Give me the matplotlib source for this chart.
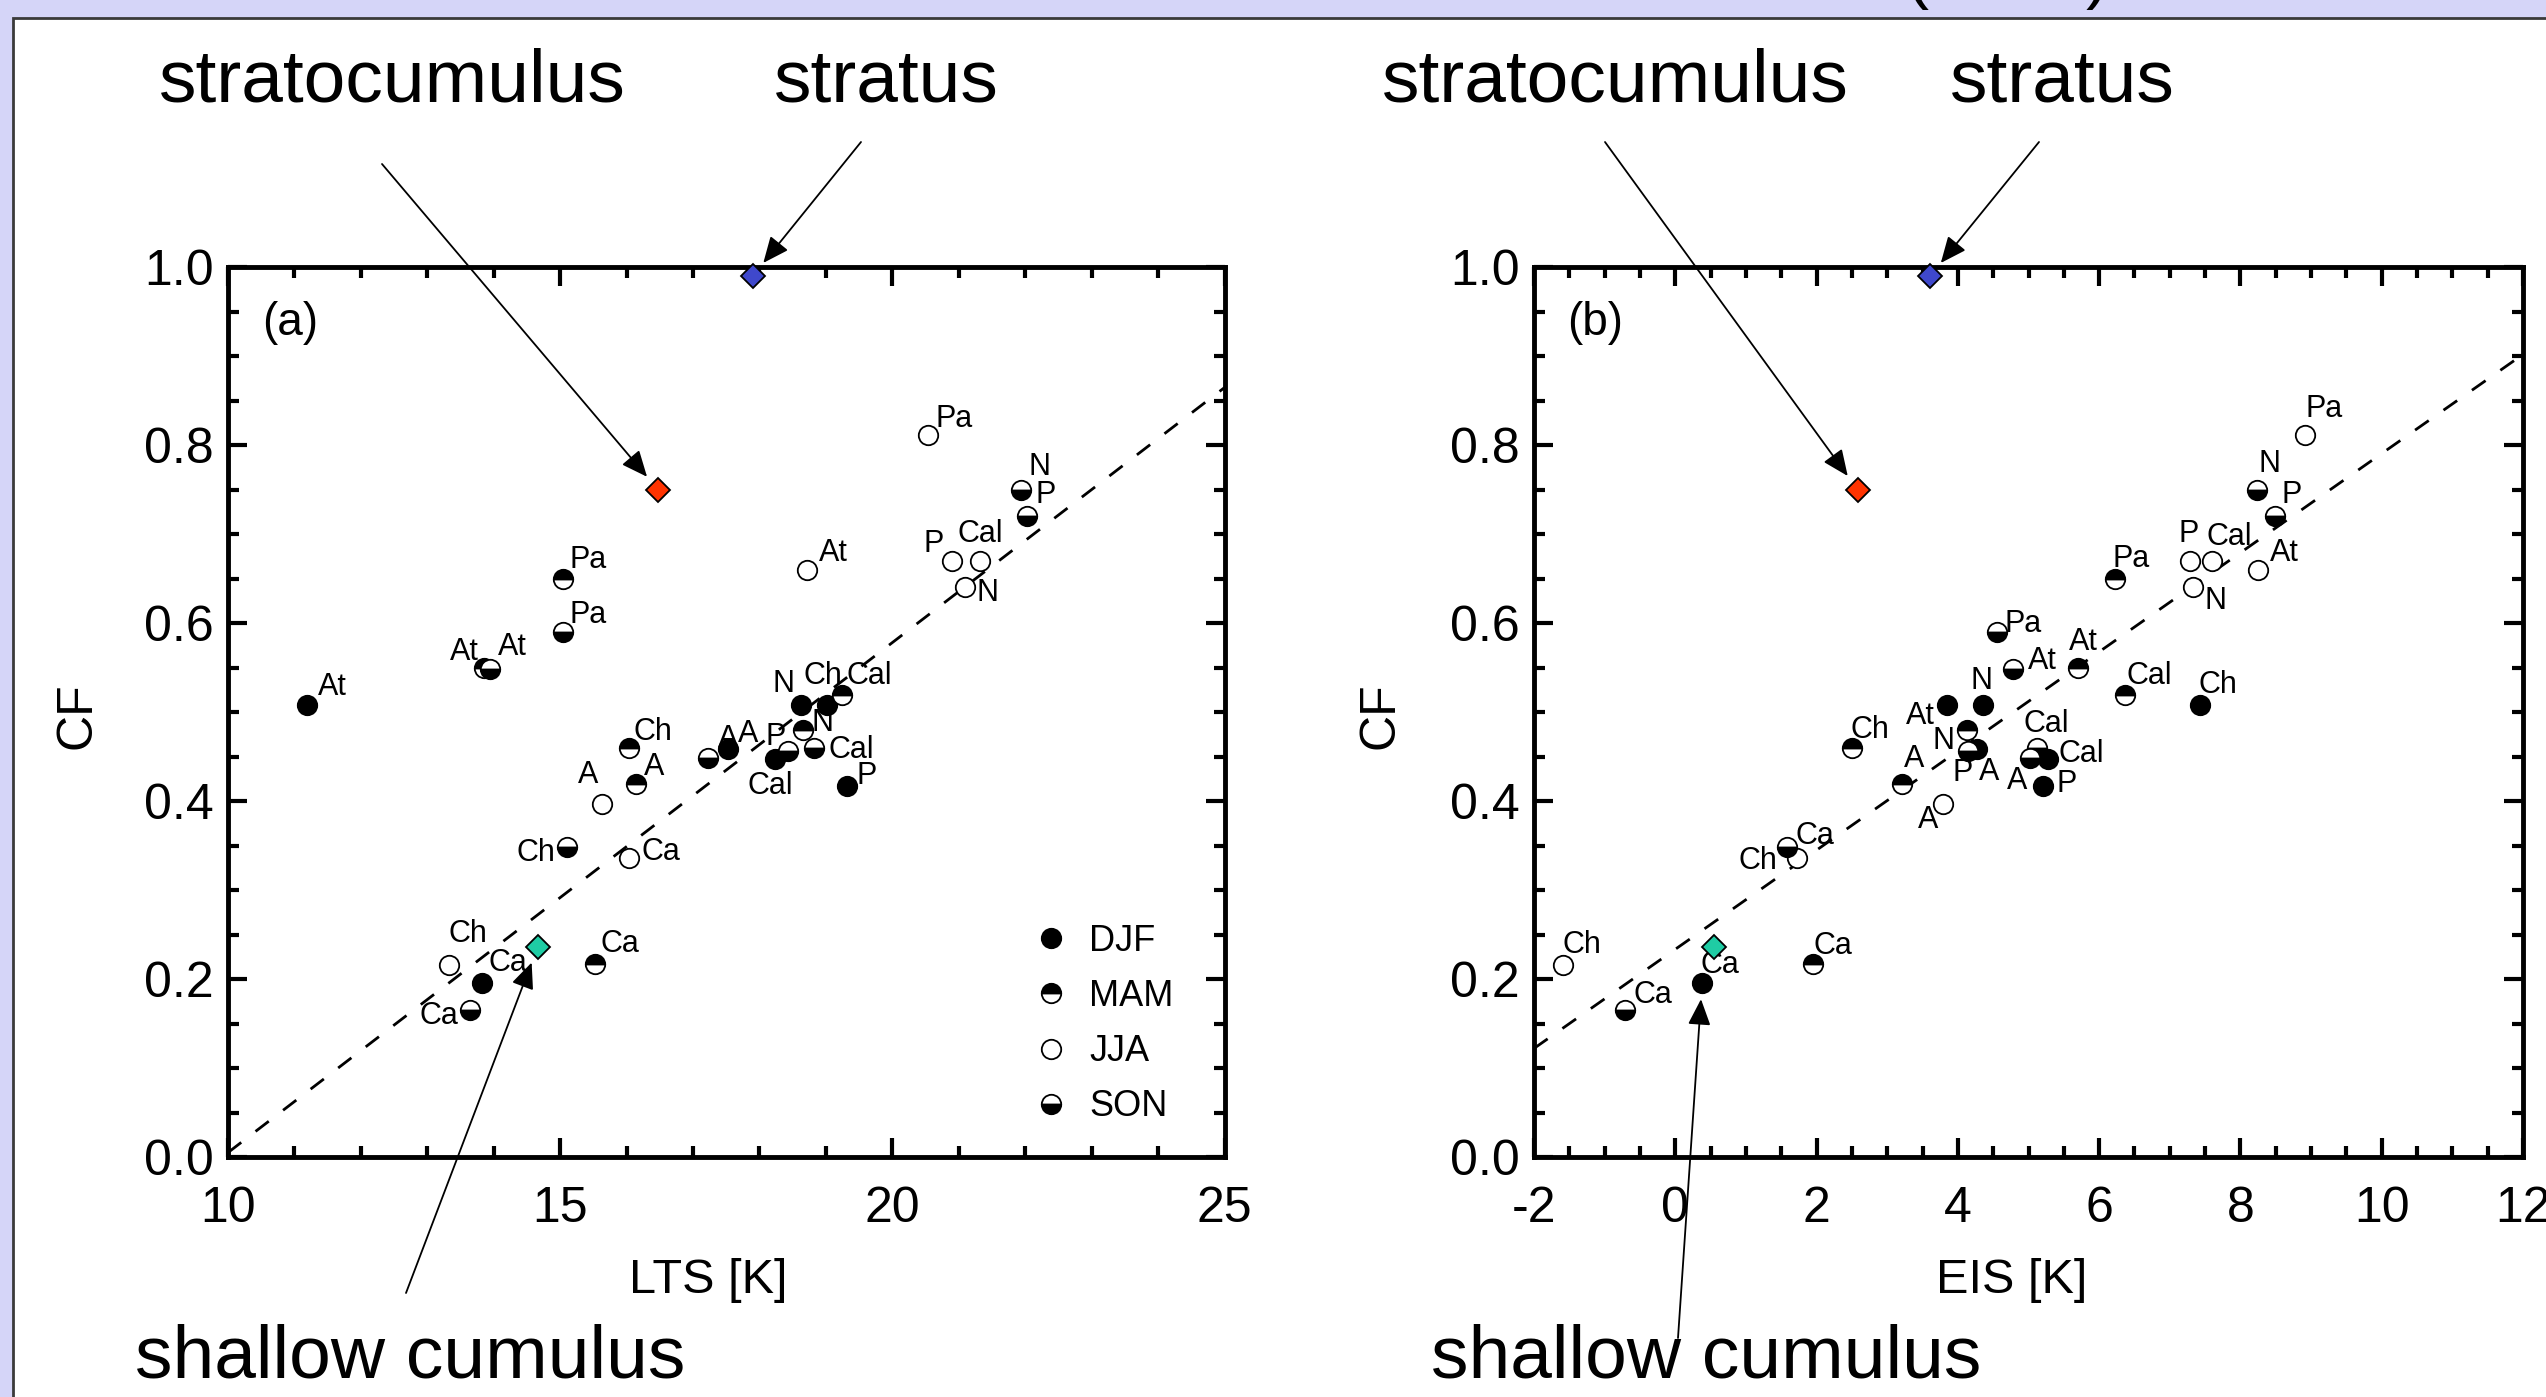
import numpy as np
import matplotlib
matplotlib.use('Agg')
import matplotlib.pyplot as plt
from matplotlib.lines import Line2D
from matplotlib.patches import Rectangle
from matplotlib.ticker import MultipleLocator

NARROW = ['Liberation Sans Narrow', 'Liberation Sans', 'DejaVu Sans']
plt.rcParams['font.family'] = NARROW
plt.rcParams['axes.unicode_minus'] = False

# --- data ---------------------------------------------------------------
regions = ['At', 'At', 'At', 'At', 'Pa', 'Pa', 'Pa', 'P', 'Cal', 'N', 'N',
           'P', 'N', 'Ch', 'Cal', 'A', 'A', 'Cal', 'P', 'N', 'Cal', 'P',
           'Ch', 'A', 'A', 'Ch', 'Ca', 'Ch', 'Ca', 'Ca', 'Ca']
seasons = ['DJF', 'MAM', 'SON', 'JJA', 'MAM', 'SON', 'JJA', 'JJA', 'JJA', 'JJA', 'SON',
           'SON', 'DJF', 'DJF', 'MAM', 'SON', 'DJF', 'DJF', 'SON', 'MAM', 'SON', 'DJF',
           'MAM', 'MAM', 'JJA', 'SON', 'JJA', 'JJA', 'DJF', 'SON', 'MAM']
lts = [11.19, 13.85, 13.95, 18.71, 15.05, 15.05, 20.53, 20.90, 21.32, 21.10, 21.93,
       22.02, 18.62, 19.02, 19.24, 17.23, 17.53, 18.24, 18.43, 18.65, 18.82, 19.32,
       16.04, 16.14, 15.63, 15.11, 16.04, 13.32, 13.83, 13.65, 15.53]
eis = [3.85, 5.70, 4.78, 8.25, 6.22, 4.55, 8.91, 7.29, 7.60, 7.33, 8.23,
       8.49, 4.36, 7.43, 6.37, 5.02, 4.27, 5.28, 4.14, 4.13, 5.12, 5.21,
       2.50, 3.21, 3.79, 1.58, 1.72, -1.59, 0.38, -0.71, 1.95]
cf = [0.508, 0.549, 0.548, 0.660, 0.650, 0.590, 0.811, 0.670, 0.670, 0.640, 0.750,
      0.720, 0.508, 0.508, 0.519, 0.448, 0.458, 0.447, 0.456, 0.480, 0.460, 0.417,
      0.459, 0.419, 0.397, 0.348, 0.336, 0.216, 0.196, 0.165, 0.217]

season_order = ['DJF', 'MAM', 'JJA', 'SON']

cloud_names = ['stratocumulus', 'stratus', 'shallow cumulus']
cloud_lts = [16.47, 17.90, 14.66]
cloud_eis = [2.58, 3.61, 0.55]
cloud_cf = [0.75, 0.99, 0.236]
cloud_colors = ['#ff3300', '#3f48cc', '#1fcca4']

# regression lines (slope, intercept)
fit_lts = (0.0573, -0.568)
fit_eis = (0.0557, 0.2334)

# label offsets (points) for each point label, per panel
offs_a = [(18, 13), (-14, 12), (16, 16), (19, 12), (18, 13), (18, 12), (19, 12), (-13, 12),
          (0, 19), (16, -4), (14, 16), (14, 15), (-12, 15), (-3, 21), (20, 14), (14, 14),
          (14, 11), (-4, -19), (-9, 10), (14, 5), (27, -2), (14, 7), (17, 12), (13, 12),
          (-10, 21), (-23, -4), (23, 4), (14, 22), (18, 14), (-23, -4), (18, 14)]
offs_b = [(-19, -8), (4, 19), (21, 6), (19, 12), (12, 14), (19, 6), (14, 19), (-1, 19),
          (12, 17), (16, -10), (9, 18), (12, 15), (-1, 17), (13, 14), (17, 14), (-9, -16),
          (9, -16), (24, 4), (-4, -16), (-17, -8), (7, 17), (17, 1), (13, 13), (9, 18),
          (-11, -12), (-21, -10), (13, 16), (14, 14), (13, 13), (20, 11), (14, 13)]

W, H = 2546, 1397


def fx(px):
    return px / W


def fy(py):
    return 1 - py / H


season_style = {
    'DJF': dict(markerfacecolor='k', fillstyle='full'),
    'MAM': dict(markerfacecolor='k', markerfacecoloralt='w', fillstyle='top'),
    'JJA': dict(markerfacecolor='w', fillstyle='full'),
    'SON': dict(markerfacecolor='k', markerfacecoloralt='w', fillstyle='bottom'),
}
mk = dict(ls='none', marker='o', ms=14, mec='k', mew=1.3)

fig = plt.figure(figsize=(W / 100, H / 100), dpi=100, facecolor='#d5d5f8')
fig.patches.append(Rectangle((fx(13), -0.02), 1.0, fy(18) + 0.02, transform=fig.transFigure,
                             facecolor='white', edgecolor='#3a3a3a', lw=2, zorder=-1))

# bits of a title cut off by the top of the slide
fig.text(fx(1917), fy(-4), '(', ha='center', va='baseline', fontsize=50, family='Liberation Sans')
fig.text(fx(2097), fy(-4), ')', ha='center', va='baseline', fontsize=50, family='Liberation Sans')

ax_a = fig.add_axes([fx(228), fy(1157), (1224.5 - 228) / W, (1157 - 267) / H])
ax_b = fig.add_axes([fx(1534), fy(1157), (2523 - 1534) / W, (1157 - 267) / H])


def draw_panel(ax, xs, cloud_x, fit, xlim, xmaj, xmin, xlabel, tag, offs, xlab_x, ylab_x):
    xs = np.array(xs)
    y = np.array(cf)
    for s in season_order:
        idx = [i for i, v in enumerate(seasons) if v == s]
        ax.plot(xs[idx], y[idx], zorder=4, clip_on=False, **mk, **season_style[s])
    for i, lab in enumerate(regions):
        ax.annotate(lab, (xs[i], y[i]), xytext=offs[i], textcoords='offset points',
                    ha='center', va='center', fontsize=22, zorder=5)

    xx = np.array(xlim)
    ax.plot(xx, fit[0] * xx + fit[1], color='k', lw=2, ls=(0, (6, 6.5)), zorder=3)

    for cx, cy, col in zip(cloud_x, cloud_cf, cloud_colors):
        ax.plot(cx, cy, marker='D', ms=12.5, mfc=col, mec='k', mew=1.3,
                zorder=6, clip_on=False)

    ax.set_xlim(*xlim)
    ax.set_ylim(0, 1.0)
    ax.xaxis.set_major_locator(MultipleLocator(xmaj))
    ax.xaxis.set_minor_locator(MultipleLocator(xmin))
    ax.yaxis.set_major_locator(MultipleLocator(0.2))
    ax.yaxis.set_minor_locator(MultipleLocator(0.05))
    ax.yaxis.set_major_formatter(plt.FormatStrFormatter('%.1f'))
    ax.tick_params(which='both', direction='in', top=True, right=True, width=3)
    ax.tick_params(which='major', length=14)
    ax.tick_params(which='minor', length=8)
    ax.tick_params(axis='x', labelsize=36, pad=21)
    ax.tick_params(axis='y', labelsize=36, pad=10)
    for sp in ax.spines.values():
        sp.set_linewidth(3.5)

    ax.set_xlabel(xlabel, fontsize=35)
    ax.xaxis.set_label_coords(xlab_x, -0.114)
    ax.set_ylabel('CF', fontsize=36)
    ax.yaxis.set_label_coords(ylab_x, 0.496)
    ax.text(0.062, 0.937, tag, transform=ax.transAxes, ha='center', va='center', fontsize=33)


draw_panel(ax_a, lts, cloud_lts, fit_lts, (10, 25), 5, 1, 'LTS [K]', '(a)', offs_a, 0.482, -0.128)
draw_panel(ax_b, eis, cloud_eis, fit_eis, (-2, 12), 2, 0.5, 'EIS [K]', '(b)', offs_b, 0.483, -0.132)

handles = [Line2D([], [], **mk, **season_style[s]) for s in season_order]
ax_a.legend(handles, season_order, loc='upper left', bbox_to_anchor=(0.808, 0.262),
            frameon=False, borderpad=0, borderaxespad=0, handlelength=1.0,
            handletextpad=0.55, labelspacing=0.56, prop={'size': 26})

# cloud-type annotations: text, arrow start (image px), target (data)
text_pos_a = [(392, 102), (886, 102), (410, 1377)]
text_pos_b = [(1615, 102), (2062, 102), (1706, 1377)]
arrow_start_a = [(382, 164), (861, 142), (406, 1293)]
arrow_start_b = [(1605, 142), (2039, 142), (1678, 1338)]
targets_a = list(zip(cloud_lts, cloud_cf))
targets_b = [(cloud_eis[0], cloud_cf[0]), (cloud_eis[1], cloud_cf[1]), (eis[28], cf[28])]

for ax, tpos, starts, targets in [(ax_a, text_pos_a, arrow_start_a, targets_a),
                                   (ax_b, text_pos_b, arrow_start_b, targets_b)]:
    for name, (tx, ty), (sx, sy), tgt in zip(cloud_names, tpos, starts, targets):
        fig.text(fx(tx), fy(ty), name, ha='center', va='baseline', fontsize=54,
                 family='Liberation Sans')
        ax.annotate('', xy=tgt, xycoords='data', xytext=(fx(sx), fy(sy)),
                    textcoords='figure fraction', annotation_clip=False,
                    arrowprops=dict(arrowstyle='-|>,head_length=0.8,head_width=0.35',
                                    mutation_scale=20, lw=1.3, color='k',
                                    shrinkA=0, shrinkB=12), zorder=7)

fig.savefig('out.png', dpi=100, facecolor=fig.get_facecolor())
